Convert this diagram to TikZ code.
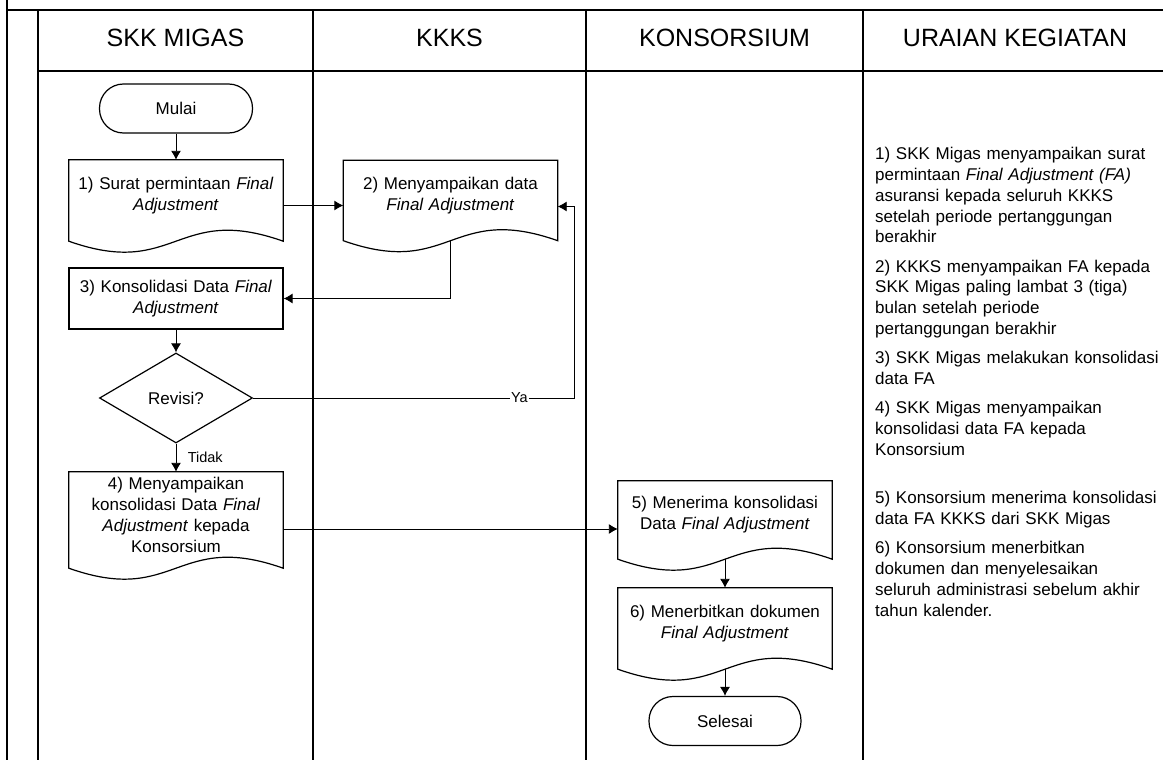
\documentclass[tikz,border=0pt]{standalone}
\usepackage{fontspec}
\setmainfont{Liberation Sans}
\usepackage{tikz}
\usetikzlibrary{shapes.geometric, arrows.meta}
\usetikzlibrary{shapes,positioning}
\tikzstyle{startstop} = [rectangle, rounded corners=24pt, minimum width=153pt, minimum height=49pt, text centered, draw=black, line width=1.2pt]
\tikzstyle{process} = [rectangle, minimum width=214pt, minimum height=61pt, text width=210pt, inner sep=2pt, align=center, draw=black, line width=1.2pt]
\tikzstyle{decision} = [diamond, aspect=1.7, minimum width=153pt, minimum height=90pt, inner sep=0pt, text centered, draw=black, line width=1.2pt]
\tikzstyle{document} = [rectangle, minimum width=214pt, text width=210pt, inner sep=0pt, align=center]
\tikzstyle{docline} = [line width=1.2pt]
\tikzstyle{arrow} = [line width=0.9pt, -{Latex[length=9pt, width=10pt]}]
\tikzstyle{plain} = [line width=0.9pt]
\tikzstyle{lane} = [line width=1.8pt]
\tikzstyle{header} = [font=\fontsize{25}{30}\selectfont, anchor=base]
\tikzstyle{edgelabel} = [font=\fontsize{14.5}{17}\selectfont]

\begin{document}
\begin{tikzpicture}[x=1pt, y=1pt, font=\fontsize{17}{21}\selectfont]
        \useasboundingbox (0,0) rectangle (1163,-760);

        % Swimlane frame
        \draw [lane] (7,0) -- (7,-760);
        \draw [lane] (7,-10) -- (1163,-10);
        \draw [lane] (38,-71) -- (1163,-71);
        \foreach \x in {38,313,586,863}
            \draw [lane] (\x,-10) -- (\x,-760);

        % Lane headers
        \node (h_skk) [header] at (175.5,-47) {SKK MIGAS};
        \node (h_kkks) [header] at (449.5,-47) {KKKS};
        \node (h_kons) [header] at (724.5,-47) {KONSORSIUM};
        \node (h_uraian) [header] at (1015,-47) {URAIAN KEGIATAN};

        % SKK Migas lane
        \node (mulai) [startstop] at (176,-108.5) {Mulai};
        \node (surat) [document, minimum height=71pt, node distance=87pt, below of=mulai] {1) Surat permintaan \textit{Final}\\ \textit{Adjustment}};
        \node (konsol) [process, node distance=103pt, below of=surat] {3) Konsolidasi Data \textit{Final}\\ \textit{Adjustment}};
        \node (revisi) [decision, node distance=99.5pt, below of=konsol] {Revisi?};
        \node (kirimkons) [document, minimum height=86pt, node distance=117pt, below of=revisi] {4) Menyampaikan\\ konsolidasi Data \textit{Final}\\ \textit{Adjustment} kepada\\ Konsorsium};

        % KKKS lane
        \node (kirim) [document, minimum height=70pt, node distance=274.5pt, right of=surat] {2) Menyampaikan data\\ \textit{Final Adjustment}};

        % Konsorsium lane
        \node (terima) [document, minimum height=68pt, node distance=549pt, right of=kirimkons] {5) Menerima konsolidasi\\ Data \textit{Final Adjustment}};
        \node (terbit) [document, minimum height=71pt, node distance=108.5pt, below of=terima] {6) Menerbitkan dokumen\\ \textit{Final Adjustment}};
        \node (selesai) [startstop, minimum width=152pt, node distance=97.5pt, below of=terbit] {Selesai};

        % Document outlines
        \foreach \n in {surat,kirim,kirimkons,terima,terbit}
            \draw [docline] (\n.north west) -- (\n.north east) -- ([yshift=-10pt]\n.south east)
                .. controls ([yshift=28pt]\n.south) and ([yshift=-48pt]\n.south) .. ([yshift=-10pt]\n.south west) -- cycle;

        % Connections
        \coordinate (ya_turn) at (574,-398);
        \draw [arrow] (mulai) -- (surat);
        \draw [arrow] ([yshift=-10pt]surat.east) -- ([yshift=-10pt]kirim.west);
        \draw [arrow] ([yshift=-10pt]kirim.south) |- (konsol.east);
        \draw [arrow] (konsol) -- (revisi);
        \draw [arrow] (revisi.east) -- node[edgelabel, pos=0.83, fill=white, inner sep=1.5pt] {Ya} (ya_turn) |- ([yshift=-11pt]kirim.east);
        \draw [arrow] (revisi.south) -- node[edgelabel, right, xshift=8pt] {Tidak} (kirimkons.north);
        \draw [arrow] ([yshift=-14pt]kirimkons.east) -- ([yshift=-14pt]terima.west);
        \draw [arrow] ([yshift=-10pt]terima.south) -- (terbit.north);
        \draw [arrow] ([yshift=-10pt]terbit.south) -- (selesai.north);

        % Uraian kegiatan
        \node (uraian) [anchor=base west, text width=290pt, align=left, inner sep=0pt] at (875,-159) {1) SKK Migas menyampaikan surat\\ permintaan \textit{Final Adjustment (FA)}\\ asuransi kepada seluruh KKKS\\ setelah periode pertanggungan\\ berakhir\\[8pt]
        2) KKKS menyampaikan FA kepada\\ SKK Migas paling lambat 3 (tiga)\\ bulan setelah periode\\ pertanggungan berakhir\\[8pt]
        3) SKK Migas melakukan konsolidasi\\ data FA\\[8pt]
        4) SKK Migas menyampaikan\\ konsolidasi data FA kepada\\ Konsorsium\\[27pt]
        5) Konsorsium menerima konsolidasi\\ data FA KKKS dari SKK Migas\\[8pt]
        6) Konsorsium menerbitkan\\ dokumen dan menyelesaikan\\ seluruh administrasi sebelum akhir\\ tahun kalender.};
    \end{tikzpicture}
\end{document}
